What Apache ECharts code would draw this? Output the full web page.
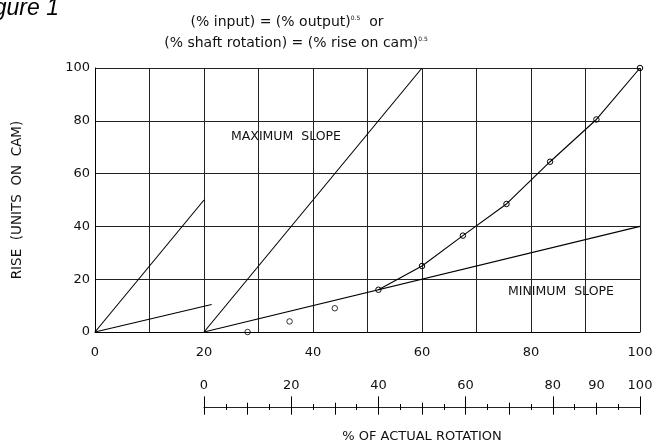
<!DOCTYPE html>
<html>
<head>
<meta charset="utf-8">
<script src="https://cdn.jsdelivr.net/npm/echarts@6/dist/echarts.min.js"></script>
<style>
html,body{margin:0;padding:0;background:#fff;}
#c{width:668px;height:445px;}
</style>
</head>
<body>
<div id="c"></div>
<script>
// ---- data ----
const mainXLabels = [0, 20, 40, 60, 80, 100];
const rotationLabels = [0, 20, 40, 60, 80, 90, 100];
const maxSlopeA = [[0, 0], [20, 50]];
const maxSlopeB = [[20, 0], [60, 100]];
const minSlopeA = [[0, 0], [21.4, 10.4]];
const minSlopeB = [[20, 0], [100, 40]];
const curveX = [52, 60, 67.5, 75.5, 83.5, 92, 100];
const curveY = [16, 25, 36.5, 48.5, 64.5, 80.5, 100];
const looseX = [28, 35.7, 44];
const looseY = [0, 4, 9];

const FONT = 'DejaVu Sans';
const INK = '#111';
const zip = (xs, ys) => xs.map((x, i) => [x, ys[i]]);

const chart = echarts.init(document.getElementById('c'), null, {renderer: 'canvas'});

const scaleGrid = {left: 204, right: 28, top: 407, height: 0};
const hiddenY = gi => ({type: 'value', gridIndex: gi, show: false, min: 0, max: 1});
const scaleX = (gi, pos, extra) => Object.assign({
  type: 'value', gridIndex: gi, position: pos, min: 0, max: 100, interval: 10,
  axisLine: {show: false},
  axisLabel: {show: false},
  splitLine: {show: false},
  axisTick: {show: false},
  minorTick: {show: false}
}, extra);

const lineSeries = (data) => ({
  type: 'line', xAxisIndex: 0, yAxisIndex: 0, data: data, showSymbol: false, symbol: 'none',
  lineStyle: {color: '#000', width: 1.1}, silent: true, clip: true
});

const titleRich = {
  t: {fontFamily: FONT, fontSize: 14, fill: INK, color: INK},
  s: {fontFamily: FONT, fontSize: 6, fill: INK, color: INK, verticalAlign: 'top'}
};

chart.setOption({
  animation: false,
  backgroundColor: '#fff',
  grid: [
    {left: 95, right: 28, top: 68, bottom: 113},
    scaleGrid, scaleGrid, scaleGrid
  ],
  xAxis: [
    {
      type: 'value', gridIndex: 0, min: 0, max: 100, interval: 10,
      axisLine: {show: true, onZero: false, lineStyle: {color: '#000', width: 1}},
      axisTick: {show: false},
      axisLabel: {
        margin: 14, color: INK, fontFamily: FONT, fontSize: 13,
        formatter: v => mainXLabels.indexOf(v) >= 0 ? String(v) : ''
      },
      splitLine: {show: true, lineStyle: {color: '#222', width: 1}}
    },
    scaleX(1, 'bottom', {
      axisLine: {show: true, lineStyle: {color: '#222', width: 1}},
      axisTick: {show: true, length: 7.7, lineStyle: {color: '#000', width: 1}},
      minorTick: {show: true, splitNumber: 2, length: 3, lineStyle: {color: '#000', width: 1}},
      name: '% OF ACTUAL ROTATION', nameLocation: 'middle', nameGap: 23,
      nameTextStyle: {color: INK, fontFamily: FONT, fontSize: 13}
    }),
    scaleX(2, 'top', {
      axisTick: {show: true, length: 4.3, lineStyle: {color: '#000', width: 1}},
      minorTick: {show: true, splitNumber: 2, length: 3, lineStyle: {color: '#000', width: 1}},
      axisLabel: {
        show: true, margin: 15, color: INK, fontFamily: FONT, fontSize: 13,
        formatter: v => rotationLabels.indexOf(v) >= 0 ? String(v) : ''
      }
    }),
    scaleX(3, 'top', {
      interval: 20,
      axisTick: {show: true, length: 10.6, lineStyle: {color: '#000', width: 1}}
    })
  ],
  yAxis: [
    {
      type: 'value', gridIndex: 0, min: 0, max: 100, interval: 20,
      axisLine: {show: true, lineStyle: {color: '#000', width: 1}},
      axisTick: {show: false},
      axisLabel: {margin: 5, color: INK, fontFamily: FONT, fontSize: 13},
      splitLine: {show: true, lineStyle: {color: '#222', width: 1}},
      name: 'RISE  (UNITS  ON  CAM)', nameLocation: 'middle', nameGap: 71, nameRotate: 90,
      nameTextStyle: {color: INK, fontFamily: FONT, fontSize: 13.5}
    },
    hiddenY(1), hiddenY(2), hiddenY(3)
  ],
  series: [
    lineSeries(maxSlopeA),
    lineSeries(minSlopeA),
    lineSeries(maxSlopeB),
    lineSeries(minSlopeB),
    {
      type: 'line', xAxisIndex: 0, yAxisIndex: 0, data: zip(curveX, curveY),
      symbol: 'circle', symbolSize: 5.5, showSymbol: true, clip: false, silent: true,
      lineStyle: {color: '#000', width: 1.1},
      itemStyle: {color: 'rgba(255,255,255,0)', borderColor: '#000', borderWidth: 1}
    },
    {
      type: 'scatter', xAxisIndex: 0, yAxisIndex: 0, data: zip(looseX, looseY),
      symbol: 'circle', symbolSize: 5.5, clip: false, silent: true,
      itemStyle: {color: 'rgba(255,255,255,0)', borderColor: '#000', borderWidth: 1}
    }
  ],
  graphic: [
    {
      type: 'text', x: 59, y: 20,
      style: {text: 'Figure 1', fill: '#000', font: 'italic 23px "Liberation Sans"', align: 'right', verticalAlign: 'bottom'}
    },
    {
      type: 'text', x: 287, y: 22,
      style: {
        text: '{t|(% input) = (% output)}{s|0.5}{t|  or}',
        align: 'center', verticalAlign: 'middle', rich: titleRich
      }
    },
    {
      type: 'text', x: 296, y: 43,
      style: {
        text: '{t|(% shaft rotation) = (% rise on cam)}{s|0.5}',
        align: 'center', verticalAlign: 'middle', rich: titleRich
      }
    },
    {
      type: 'text', x: 231, y: 137,
      style: {text: 'MAXIMUM  SLOPE', fill: INK, font: '12.5px "DejaVu Sans"', align: 'left', verticalAlign: 'middle'}
    },
    {
      type: 'text', x: 508, y: 292,
      style: {text: 'MINIMUM  SLOPE', fill: INK, font: '12.5px "DejaVu Sans"', align: 'left', verticalAlign: 'middle'}
    }
  ]
});
</script>
</body>
</html>
